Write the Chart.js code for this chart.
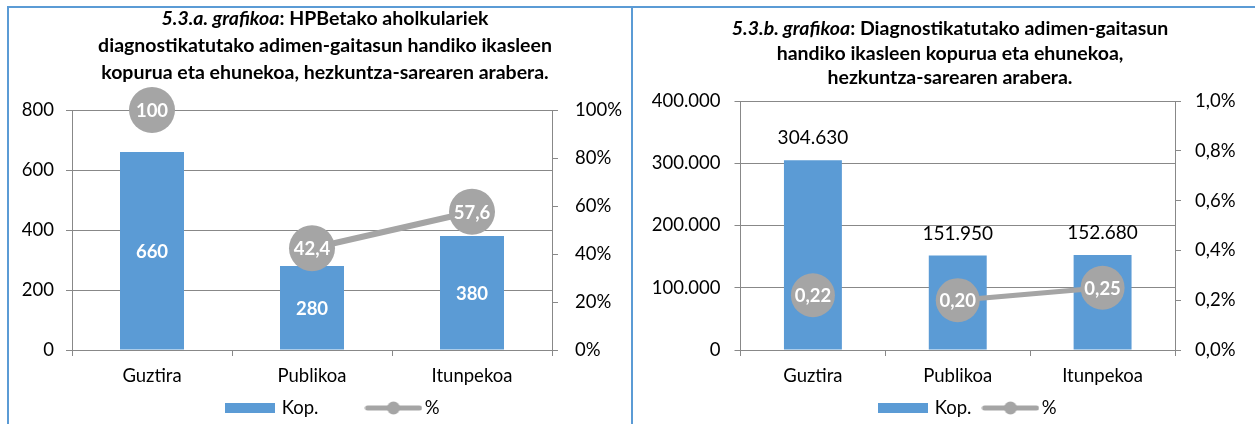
<!DOCTYPE html>
<html>
<head>
<meta charset="utf-8">
<script src="https://cdn.jsdelivr.net/npm/chart.js@4.4.0/dist/chart.umd.min.js"></script>
<style>
html, body { margin: 0; padding: 0; background: #fff; overflow: hidden; }
body { width: 1255px; height: 424px; position: relative; font-family: Lato, sans-serif; }
.rule { position: absolute; background: #5b9bd5; }
.box { position: absolute; top: 8px; height: 480px; }
.title { position: absolute; text-align: center; font-weight: bold; color: #000; white-space: nowrap; transform: translateX(-50%); }
</style>
</head>
<body>
<div class="box" style="left:9px; width:650px"><canvas id="chartA" width="650" height="480"></canvas></div>
<div class="box" style="left:633px; width:662px"><canvas id="chartB" width="662" height="480"></canvas></div>

<div class="rule" style="left:7px; top:6px; width:1248px; height:2px"></div>
<div class="rule" style="left:7px; top:6px; width:2px; height:418px"></div>
<div class="rule" style="left:631px; top:6px; width:2px; height:418px"></div>

<div class="title" style="left:325px; top:4px; font-size:19.5px; line-height:27px"><i>5.3.a. grafikoa</i>: HPBetako aholkulariek<br>diagnostikatutako adimen-gaitasun handiko ikasleen<br>kopurua eta ehunekoa, hezkuntza-sarearen arabera.</div>
<div class="title" style="left:950px; top:16px; font-size:19.5px; line-height:24.5px"><i>5.3.b. grafikoa</i>: Diagnostikatutako adimen-gaitasun<br>handiko ikasleen kopurua eta ehunekoa,<br>hezkuntza-sarearen arabera.</div>

<script>
// categories and values
const sectors = ['Guztira', 'Publikoa', 'Itunpekoa'];
const seriesNames = ['Kop.', '%'];

// 5.3.a: students diagnosed by the HPB advisors
const countA = [660, 280, 380];
const shareA = [100, 42.4, 57.6];

// 5.3.b: all diagnosed students
const countB = [304630, 151950, 152680];
const shareB = [0.22, 0.20, 0.25];

const BLUE = '#5b9bd5';
const GREY = '#a5a5a5';
const AXIS = '#888888';
const TXT = 18.5;

Chart.defaults.font.family = 'Lato, sans-serif';
Chart.defaults.color = '#000';

// 1234567.8 -> "1.234.567,8"
function eus(v, dec) {
    let parts = Number(v).toFixed(dec).split('.');
    parts[0] = parts[0].replace(/\B(?=(\d{3})+(?!\d))/g, '.');
    return parts.join(',');
}

function barSwatch() {
    let c = document.createElement('canvas');
    c.width = 50; c.height = 10;
    let g = c.getContext('2d');
    g.fillStyle = BLUE;
    g.fillRect(0, 0, 50, 10);
    return c;
}

function lineSwatch() {
    let c = document.createElement('canvas');
    c.width = 58; c.height = 14;
    let g = c.getContext('2d');
    g.strokeStyle = GREY;
    g.lineWidth = 5;
    g.lineCap = 'round';
    g.beginPath(); g.moveTo(3, 7); g.lineTo(55, 7); g.stroke();
    g.fillStyle = GREY;
    g.beginPath(); g.arc(29, 7, 6.5, 0, Math.PI * 2); g.fill();
    return c;
}

const swatches = [barSwatch(), lineSwatch()];

// numbers on the bars and inside the round markers
const valueLabels = {
    id: 'valueLabels',
    afterDatasetsDraw(chart, args, opts) {
        let ctx = chart.ctx;
        ctx.save();
        ctx.textAlign = 'center';
        ctx.textBaseline = 'middle';
        chart.data.datasets.forEach((ds, i) => {
            let meta = chart.getDatasetMeta(i);
            let st = opts[ds.type];
            meta.data.forEach((el, j) => {
                let y = el.y;
                if (ds.type === 'bar') {
                    y = st.inside ? (el.y + el.base) / 2 : el.y - st.offset;
                }
                ctx.font = st.font;
                ctx.fillStyle = st.color;
                ctx.fillText(st.format(ds.data[j]), el.x, y + 1);
            });
        });
        ctx.restore();
    }
};

// keep the legend row at a fixed height under the axis labels
const legendRow = {
    id: 'legendRow',
    afterLayout(chart, args, opts) {
        let lg = chart.legend;
        let h = lg.bottom - lg.top;
        lg.top = opts.center - lg.options.labels.padding - TXT / 2;
        lg.bottom = lg.top + h;
    }
};

function makeChart(id, counts, shares, cfg) {
    let ctx = document.getElementById(id);
    return new Chart(ctx, {
        type: 'bar',
        data: {
            labels: sectors,
            datasets: [{
                type: 'bar',
                label: seriesNames[0],
                data: counts,
                backgroundColor: BLUE,
                yAxisID: 'y',
                categoryPercentage: 1,
                barPercentage: 0.4,
                order: 1
            }, {
                type: 'line',
                label: seriesNames[1],
                data: shares,
                yAxisID: 'y1',
                borderColor: GREY,
                borderWidth: cfg.lineWidth,
                backgroundColor: GREY,
                pointRadius: cfg.pointRadius,
                pointHoverRadius: cfg.pointRadius,
                pointBackgroundColor: GREY,
                pointBorderWidth: 0,
                clip: false,
                order: 0,
                // the total is not joined to the two networks
                segment: {
                    borderColor: c => c.p0DataIndex === 0 ? 'rgba(0,0,0,0)' : GREY
                }
            }]
        },
        options: {
            responsive: false,
            animation: false,
            events: [],
            layout: { padding: { top: cfg.top, left: cfg.padLeft, right: cfg.padRight, bottom: cfg.padBottom } },
            scales: {
                x: {
                    grid: { drawOnChartArea: false, tickLength: 6, color: AXIS },
                    border: { color: AXIS },
                    ticks: { font: { size: TXT }, padding: 9 },
                    afterFit: s => { s.height = 45; }
                },
                y: {
                    position: 'left',
                    min: 0,
                    max: cfg.yMax,
                    ticks: { stepSize: cfg.yStep, font: { size: TXT }, padding: cfg.yPad, callback: v => eus(v, 0) },
                    grid: { color: AXIS, tickLength: 6 },
                    border: { color: AXIS },
                    afterFit: s => { s.width = cfg.yWidth; }
                },
                y1: {
                    position: 'right',
                    min: 0,
                    max: cfg.pMax,
                    ticks: { stepSize: cfg.pStep, font: { size: TXT }, padding: cfg.y1Pad, callback: v => eus(v, cfg.pDec) + '%' },
                    grid: { drawOnChartArea: false, color: AXIS, tickLength: 6 },
                    border: { color: AXIS },
                    afterFit: s => { s.width = cfg.y1Width; }
                }
            },
            plugins: {
                tooltip: { enabled: false },
                legend: {
                    position: 'bottom',
                    labels: {
                        usePointStyle: true,
                        pointStyleWidth: 44,
                        padding: cfg.legendGap,
                        font: { size: TXT },
                        color: '#000',
                        generateLabels: chart => chart.data.datasets.map((ds, i) => ({
                            text: ds.label,
                            pointStyle: swatches[i],
                            fillStyle: 'rgba(0,0,0,0)',
                            strokeStyle: 'rgba(0,0,0,0)',
                            lineWidth: 0,
                            hidden: false,
                            datasetIndex: i,
                            fontColor: '#000'
                        }))
                    }
                },
                legendRow: { center: 400 },
                valueLabels: {
                    bar: cfg.barLabel,
                    line: { font: 'bold 18.5px Lato, sans-serif', color: '#fff', format: cfg.shareFormat }
                }
            }
        },
        plugins: [valueLabels, legendRow]
    });
}

makeChart('chartA', countA, shareA, {
    top: 102, padLeft: 0, padRight: 0, padBottom: 11.5,
    yWidth: 63, y1Width: 107, yPad: 12, y1Pad: 17, legendGap: 53,
    yMax: 800, yStep: 200, pMax: 100, pStep: 20, pDec: 0,
    lineWidth: 6, pointRadius: 23,
    barLabel: { inside: true, font: 'bold 18.5px Lato, sans-serif', color: '#fff', format: v => eus(v, 0) },
    shareFormat: v => Number.isInteger(v) ? eus(v, 0) : eus(v, 1)
});

makeChart('chartB', countB, shareB, {
    top: 93, padLeft: 10, padRight: 0, padBottom: 47.5,
    yWidth: 97.5, y1Width: 120, yPad: 14, y1Pad: 14, legendGap: 17,
    yMax: 400000, yStep: 100000, pMax: 1, pStep: 0.2, pDec: 1,
    lineWidth: 5, pointRadius: 22,
    barLabel: { inside: false, offset: 23, font: '19px Lato, sans-serif', color: '#000', format: v => eus(v, 0) },
    shareFormat: v => eus(v, 2)
});
</script>
</body>
</html>
